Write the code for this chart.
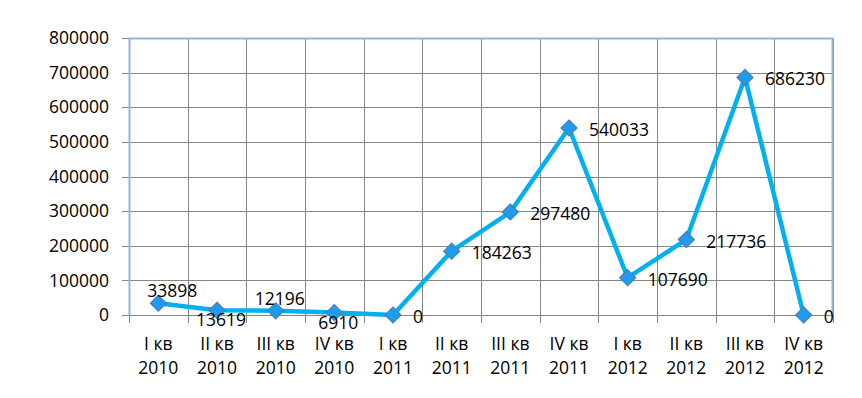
<!DOCTYPE html>
<html>
<head>
<meta charset="utf-8">
<script src="https://cdn.jsdelivr.net/npm/d3@7"></script>
<style>
  body { margin: 0; background: #fff; }
  text { font-family: 'Open Sans', 'Liberation Sans', sans-serif; fill: #000; }
</style>
</head>
<body>
<div id="chart"></div>
<script>
const quarters = ['I кв', 'II кв', 'III кв', 'IV кв', 'I кв', 'II кв', 'III кв', 'IV кв', 'I кв', 'II кв', 'III кв', 'IV кв']
const years = ['2010', '2010', '2010', '2010', '2011', '2011', '2011', '2011', '2012', '2012', '2012', '2012']
const values = [33898, 13619, 12196, 6910, 0, 184263, 297480, 540033, 107690, 217736, 686230, 0]
const yTicks = [0, 100000, 200000, 300000, 400000, 500000, 600000, 700000, 800000]

const margin = { top: 38, left: 129, right: 29, bottom: 83 }
const width = 862 - margin.left - margin.right
const height = 398 - margin.top - margin.bottom

const svg = d3
  .select('#chart')
  .append('svg')
  .attr('width', 862)
  .attr('height', 398)
  .append('g')
  .attr('transform', 'translate(' + margin.left + ',' + margin.top + ')')

const categories = values.map((d, i) => i)

const xScale = d3
  .scaleBand()
  .domain(categories)
  .range([0, width])

const yScale = d3
  .scaleLinear()
  .domain([0, 800000])
  .range([height, 0])

const cx = i => xScale(i) + xScale.bandwidth() / 2

const gridColor = '#868686'
const borderColor = '#95b3d7'

// horizontal gridlines + left ticks
svg
  .selectAll('.hgrid')
  .data(yTicks)
  .enter()
  .append('line')
  .attr('x1', -7)
  .attr('x2', width)
  .attr('y1', d => Math.round(yScale(d)) + 0.5)
  .attr('y2', d => Math.round(yScale(d)) + 0.5)
  .attr('stroke', gridColor)
  .attr('stroke-width', 1)

// vertical gridlines + bottom ticks
svg
  .selectAll('.vgrid')
  .data(categories.slice(1).concat([categories.length]))
  .enter()
  .append('line')
  .attr('x1', d => Math.round(d * xScale.bandwidth()) + 0.5)
  .attr('x2', d => Math.round(d * xScale.bandwidth()) + 0.5)
  .attr('y1', 0)
  .attr('y2', height + 8)
  .attr('stroke', gridColor)

// bottom tick at origin
svg
  .append('line')
  .attr('x1', 0.5)
  .attr('x2', 0.5)
  .attr('y1', height)
  .attr('y2', height + 8)
  .attr('stroke', gridColor)

// plot border (top, left, right)
svg
  .append('path')
  .attr('d', `M0.5,${height} V0.5 H${width - 0.5} V${height}`)
  .attr('fill', 'none')
  .attr('stroke', borderColor)
  .attr('stroke-width', 2)

// y labels
svg
  .selectAll('.ylab')
  .data(yTicks)
  .enter()
  .append('text')
  .attr('x', -20)
  .attr('y', d => yScale(d))
  .attr('dy', '0.35em')
  .attr('text-anchor', 'end')
  .style('font-size', '17.5px')
  .text(d => d)

// x labels
const xLab = svg
  .selectAll('.xlab')
  .data(categories)
  .enter()
  .append('text')
  .attr('text-anchor', 'middle')
  .style('font-size', '17.5px')

xLab
  .append('tspan')
  .attr('x', d => cx(d))
  .attr('y', height + 35)
  .text(d => quarters[d])

xLab
  .append('tspan')
  .attr('x', d => cx(d))
  .attr('y', height + 59)
  .text(d => years[d])

// line
const line = d3
  .line()
  .x((d, i) => cx(i))
  .y(d => yScale(d))

svg
  .append('path')
  .datum(values)
  .attr('d', line)
  .attr('fill', 'none')
  .attr('stroke', '#00b0f0')
  .attr('stroke-width', 4.5)
  .attr('stroke-linejoin', 'round')

// markers
svg
  .selectAll('.marker')
  .data(values)
  .enter()
  .append('path')
  .attr('d', 'M0,-8 L8,0 L0,8 L-8,0 Z')
  .attr('transform', (d, i) => 'translate(' + cx(i) + ',' + yScale(d) + ')')
  .attr('fill', '#1e9cf0')
  .attr('stroke', '#4a7ebb')
  .attr('stroke-width', 1.2)

// data labels: first four alternate above/below, rest to the right
svg
  .selectAll('.dlab')
  .data(values)
  .enter()
  .append('text')
  .style('font-size', '17.5px')
  .attr('x', (d, i) => {
    if (i === 0) return cx(i) + 14
    if (i < 4) return cx(i) + 4
    return cx(i) + 20
  })
  .attr('y', (d, i) => {
    const cy = yScale(d)
    if (i < 4) return i % 2 === 0 ? cy - 6 : cy + 16
    return cy + 8
  })
  .attr('text-anchor', (d, i) => (i < 4 ? 'middle' : 'start'))
  .text(d => d)
</script>
</body>
</html>
